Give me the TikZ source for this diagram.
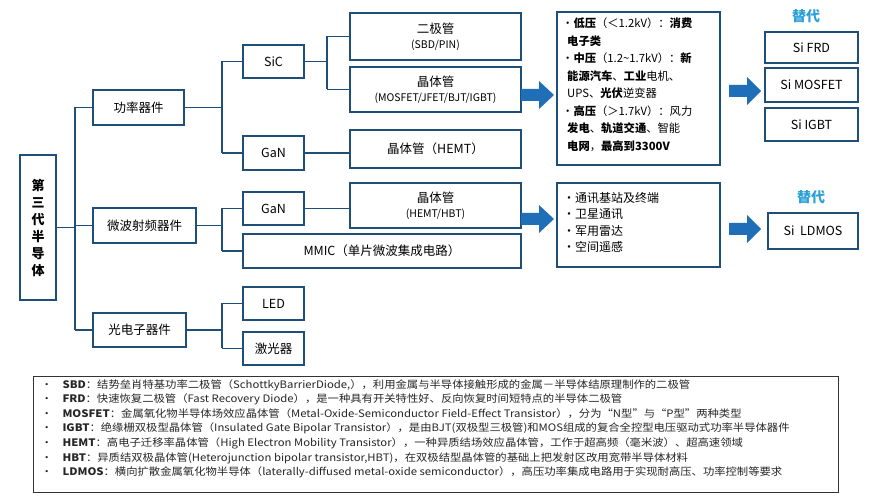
\documentclass[tikz,border=0pt]{standalone}
\usepackage{fontspec}
\setmainfont{Noto Sans CJK SC}
\newfontfamily\notefont[FakeStretch=1.1]{Noto Sans CJK SC}
\definecolor{bdr}{HTML}{1F4E79}
\definecolor{arr}{HTML}{1F6FB8}
\definecolor{sub}{HTML}{2AA0D8}
\begin{document}
\begin{tikzpicture}[x=1pt,y=-1pt,
  bx/.style={draw=bdr,line width=1.6pt,fill=white,inner sep=0pt,align=center,font=\fontsize{12.5}{15}\selectfont},
  ln/.style={draw=bdr,line width=1.6pt},
  barr/.style={fill=arr,draw=none}]
\useasboundingbox (0,0) rectangle (878,502);
\fill[white] (0,0) rectangle (878,502);
\newcommand{\bxat}[7][]{\node[bx,minimum width=#5-#3,minimum height=#6-#4,#1] (#2) at ({(#3+#5)/2},{(#4+#6)/2}) {#7};}
\newcommand{\blockarrow}[3]{\fill[barr] (#1,#2-6) -- (#1+18,#2-6) -- (#1+18,#2-14) -- (#1+#3,#2) -- (#1+18,#2+14) -- (#1+18,#2+6) -- (#1,#2+6) -- cycle;}
\bxat[font=\bfseries\fontsize{13}{17}\selectfont]{root}{20}{155}{56}{300}{第\\三\\代\\半\\导\\体}
\bxat{gl}{93}{90}{184}{125}{功率器件}
\bxat{wb}{93}{208}{196}{243}{微波射频器件}
\bxat{gd}{93}{313}{186}{347}{光电子器件}
\bxat{sic}{243}{45}{304}{78}{SiC}
\bxat{gan1}{243}{136}{304}{170}{GaN}
\bxat{gan2}{243}{192}{304}{225}{GaN}
\bxat{mmic}{243}{234}{521}{268}{MMIC（单片微波集成电路）}
\bxat{led}{243}{287}{304}{320}{LED}
\bxat{jgq}{243}{332}{304}{365}{激光器}
\bxat{ejg}{350}{13}{521}{60}{二极管\\{\fontsize{10.5}{12}\selectfont (SBD/PIN)}}
\bxat{jtg}{350}{67}{521}{112}{晶体管\\{\fontsize{10.5}{12}\selectfont (MOSFET/JFET/BJT/IGBT)}}
\bxat{hemt}{350}{130}{521}{168}{晶体管（HEMT）}
\bxat{hbt}{350}{183}{521}{228}{晶体管\\{\fontsize{10.5}{12}\selectfont (HEMT/HBT)}}
\node[bx,minimum width=163pt,minimum height=153pt] (r1) at (638.5,88.5) {};
\node[anchor=north west,align=left,font=\fontsize{11.3}{17.5}\selectfont,inner sep=0pt] (r1t) at (562,18) {%
·\textbf{低压}（＜1.2kV）：\textbf{消费}\\
\hspace*{5pt}\textbf{电子类}\\
·\textbf{中压}（1.2\textasciitilde1.7kV）：\textbf{新}\\
\hspace*{5pt}\textbf{能源汽车}、\textbf{工业}电机、\\
\hspace*{5pt}UPS、\textbf{光伏}逆变器\\
·\textbf{高压}（＞1.7kV）：风力\\
\hspace*{5pt}\textbf{发电}、\textbf{轨道交通}、智能\\
\hspace*{5pt}\textbf{电网}，\textbf{最高到3300V}};
\node[bx,minimum width=163pt,minimum height=84pt] (r2) at (638.5,225) {};
\node[anchor=north west,align=left,font=\fontsize{12}{16.5}\selectfont,inner sep=0pt] (r2t) at (563,192) {%
·通讯基站及终端\\ ·卫星通讯\\ ·军用雷达\\ ·空间遥感};
\node[font=\bfseries\fontsize{14}{15}\selectfont,text=sub] (td1) at (806,16) {替代};
\bxat{frd}{765}{32}{858}{63}{Si FRD}
\bxat{mos}{765}{68}{858}{102}{Si MOSFET}
\bxat{igbt}{765}{108}{858}{141}{Si IGBT}
\node[font=\bfseries\fontsize{14}{15}\selectfont,text=sub] (td2) at (811,197) {替代};
\bxat{ld}{768}{213}{858}{249}{Si\ \ LDMOS}
\blockarrow{521}{95}{33}
\blockarrow{521}{219}{33}
\blockarrow{729}{91}{32}
\blockarrow{729}{229}{32}
% tree
\coordinate (t0) at (75,0);
\draw[ln] (root.east) -- (root.east -| t0);
\draw[ln] (gl.west -| t0) -- (gd.west -| t0);
\draw[ln] (gl.west -| t0) -- (gl.west);
\draw[ln] (wb.west -| t0) -- (wb.west);
\draw[ln] (gd.west -| t0) -- (gd.west);
\coordinate (t1) at (222,0);
\draw[ln] (gl.east) -- (gl.east -| t1);
\draw[ln] (sic.west -| t1) -- (gan1.west -| t1);
\draw[ln] (sic.west -| t1) -- (sic.west);
\draw[ln] (gan1.west -| t1) -- (gan1.west);
\draw[ln] (wb.east) -- (wb.east -| t1);
\draw[ln] (gan2.west -| t1) -- (mmic.west -| t1);
\draw[ln] (gan2.west -| t1) -- (gan2.west);
\draw[ln] (mmic.west -| t1) -- (mmic.west);
\draw[ln] (gd.east) -- (gd.east -| t1);
\draw[ln] (led.west -| t1) -- (jgq.west -| t1);
\draw[ln] (led.west -| t1) -- (led.west);
\draw[ln] (jgq.west -| t1) -- (jgq.west);
\coordinate (t2) at (327,0);
\draw[ln] (sic.east) -- (sic.east -| t2);
\draw[ln] (ejg.west -| t2) -- (jtg.west -| t2);
\draw[ln] (ejg.west -| t2) -- (ejg.west);
\draw[ln] (jtg.west -| t2) -- (jtg.west);
\draw[ln] (gan1.east) -- (gan1.east -| hemt.west);
\draw[ln] (gan2.east) -- (gan2.east -| hbt.west);
% notes
\node[draw=black!80,line width=1pt,minimum width=805pt,minimum height=115pt] (nb) at (435.5,434.5) {};
\node[anchor=north west,align=left,inner sep=0pt,font=\notefont\fontsize{10.3}{14.6}\selectfont,text=black!85] (nt) at (41,379) {%
•\hspace{10pt}\textbf{SBD}：结势垒肖特基功率二极管（SchottkyBarrierDiode,），利用金属与半导体接触形成的金属－半导体结原理制作的二极管\\
•\hspace{10pt}\textbf{FRD}：快速恢复二极管（Fast Recovery Diode），是一种具有开关特性好、反向恢复时间短特点的半导体二极管\\
•\hspace{10pt}\textbf{MOSFET}：金属氧化物半导体场效应晶体管（Metal-Oxide-Semiconductor Field-Effect Transistor），分为“N型”与“P型”两种类型\\
•\hspace{10pt}\textbf{IGBT}：绝缘栅双极型晶体管（Insulated Gate Bipolar Transistor），是由BJT(双极型三极管)和MOS组成的复合全控型电压驱动式功率半导体器件\\
•\hspace{10pt}\textbf{HEMT}：高电子迁移率晶体管（High Electron Mobility Transistor），一种异质结场效应晶体管，工作于超高频（毫米波）、超高速领域\\
•\hspace{10pt}\textbf{HBT}：异质结双极晶体管(Heterojunction bipolar transistor,HBT)，在双极结型晶体管的基础上把发射区改用宽带半导体材料\\
•\hspace{10pt}\textbf{LDMOS}：横向扩散金属氧化物半导体（laterally-diffused metal-oxide semiconductor），高压功率集成电路用于实现耐高压、功率控制等要求};
\end{tikzpicture}
\end{document}
